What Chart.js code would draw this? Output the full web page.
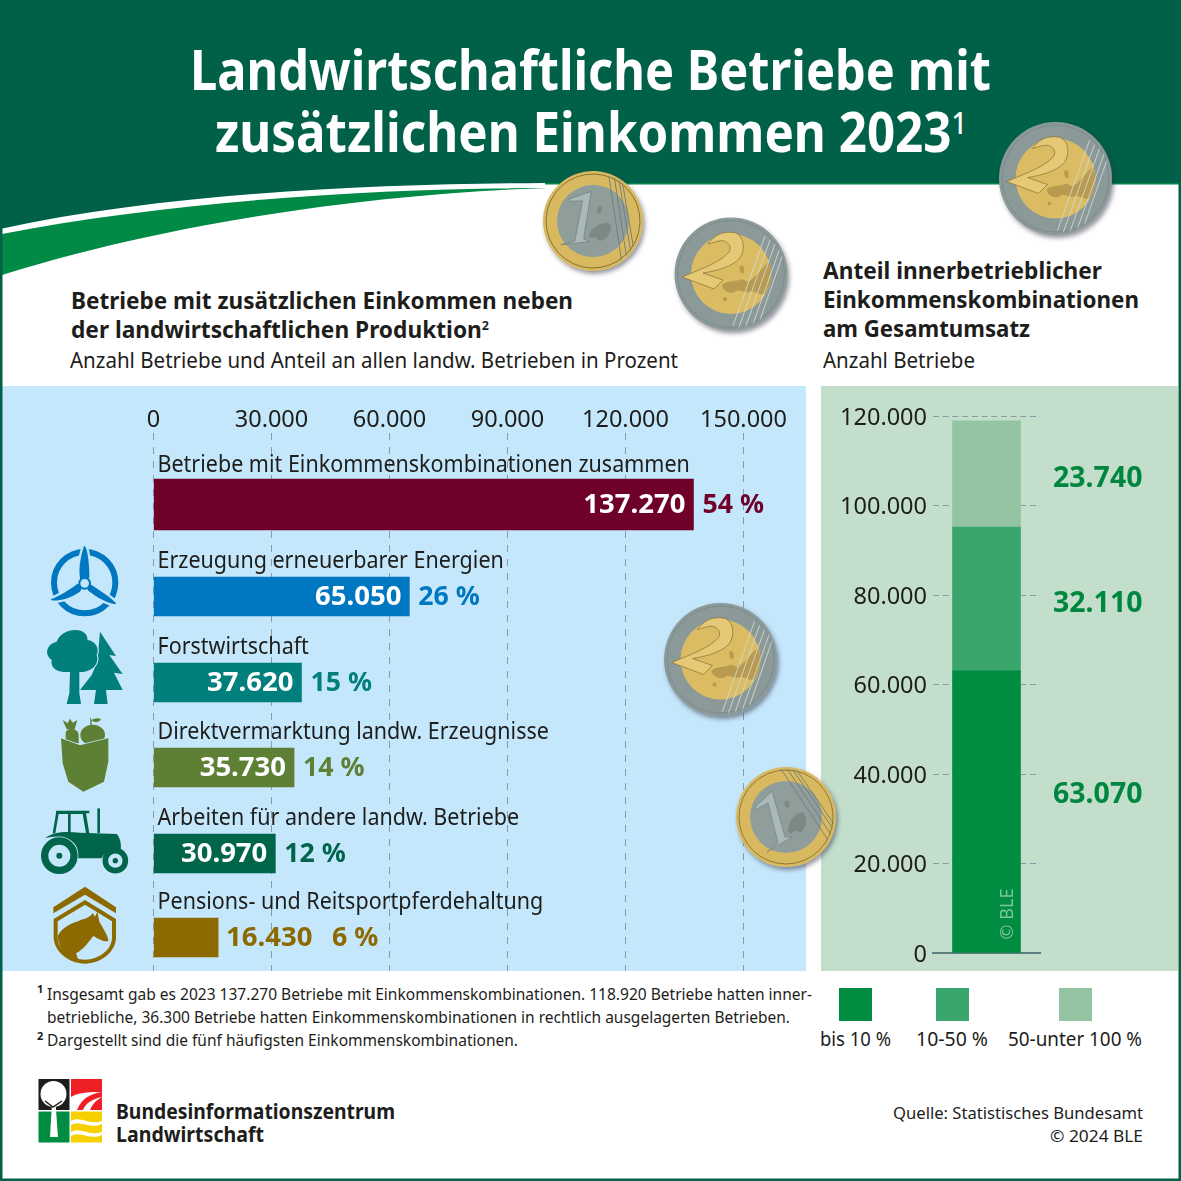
<!DOCTYPE html>
<html lang="de"><head><meta charset="utf-8">
<script src="https://cdn.jsdelivr.net/npm/chart.js@4"></script>
<style>
html,body{margin:0;padding:0;background:#fff}
#stage{position:relative;width:1181px;height:1181px;overflow:hidden;font-family:"Noto Sans",sans-serif;color:#1d1d1b}
.t{position:absolute;white-space:nowrap;line-height:1;transform-origin:0 50%}
.b{font-weight:700}
.panel{position:absolute}
canvas{display:block}
svg.ov{position:absolute;left:0;top:0;pointer-events:none}
sup{font-size:.55em;line-height:0;vertical-align:.6em}
.sw{position:absolute;width:33px;height:33px;top:988px}
</style></head><body>
<div id="stage">
<svg class="ov" width="1181" height="1181" viewBox="0 0 1181 1181" style="z-index:0">
<path d="M0,0H1181V183H545C380,184 170,192 0,229Z" fill="#006048"/>
<rect x="545" y="183" width="636" height="1.5" fill="#00874a"/>
<path d="M2,234C170,201 380,188 548,188C380,193 170,222 2,275Z" fill="#008a45"/>
</svg>
<div class="panel" style="left:2px;top:386px;width:804px;height:585px;background:#c5e7fb;z-index:1"><canvas id="left" width="804" height="585"></canvas></div>
<div class="panel" style="left:821px;top:386px;width:357px;height:585px;background:#c3dfcc;z-index:1"><canvas id="right" width="357" height="585"></canvas></div>

<div class="t b" data-w="801" style="left:190px;top:40px;font-size:56px;color:#fff;z-index:2">Landwirtschaftliche Betriebe mit</div>
<div class="t b" data-w="752" style="left:215px;top:102px;font-size:56px;color:#fff;z-index:2">zusätzlichen Einkommen 2023<sup style="font-weight:500">1</sup></div>

<div class="t b" data-w="502" style="left:71px;top:288px;font-size:24px">Betriebe mit zusätzlichen Einkommen neben</div>
<div class="t b" data-w="418" style="left:71px;top:317px;font-size:24px">der landwirtschaftlichen Produktion<sup>2</sup></div>
<div class="t" data-w="608" style="left:70px;top:348px;font-size:22px">Anzahl Betriebe und Anteil an allen landw. Betrieben in Prozent</div>
<div class="t b" data-w="279" style="left:823px;top:258px;font-size:24px">Anteil innerbetrieblicher</div>
<div class="t b" data-w="316" style="left:823px;top:287px;font-size:24px">Einkommenskombinationen</div>
<div class="t b" data-w="207" style="left:823px;top:316px;font-size:24px">am Gesamtumsatz</div>
<div class="t" data-w="152" style="left:823px;top:348px;font-size:22px">Anzahl Betriebe</div>

<div class="t b" style="left:37px;top:983px;font-size:11px">1</div>
<div class="t" data-w="765" style="left:47px;top:986px;font-size:16px">Insgesamt gab es 2023 137.270 Betriebe mit Einkommenskombinationen. 118.920 Betriebe hatten inner-</div>
<div class="t" data-w="743" style="left:47px;top:1009px;font-size:16px">betriebliche, 36.300 Betriebe hatten Einkommenskombinationen in rechtlich ausgelagerten Betrieben.</div>
<div class="t b" style="left:37px;top:1030px;font-size:11px">2</div>
<div class="t" data-w="471" style="left:47px;top:1032px;font-size:16px">Dargestellt sind die fünf häufigsten Einkommenskombinationen.</div>

<div class="sw" style="left:839px;background:#008c41"></div>
<div class="sw" style="left:936px;background:#3aa56c"></div>
<div class="sw" style="left:1059px;background:#93c5a2"></div>
<div class="t" data-w="71" style="left:820px;top:1030px;font-size:19px">bis 10 %</div>
<div class="t" data-w="72" style="left:916px;top:1030px;font-size:19px">10-50 %</div>
<div class="t" data-w="134" style="left:1008px;top:1030px;font-size:19px">50-unter 100 %</div>

<div class="t b" data-w="279" style="left:116px;top:1101px;font-size:21px">Bundesinformationszentrum</div>
<div class="t b" data-w="148" style="left:116px;top:1124px;font-size:21px">Landwirtschaft</div>
<div class="t" data-w="250" style="left:893px;top:1104px;font-size:17px">Quelle: Statistisches Bundesamt</div>
<div class="t" data-w="93" style="left:1050px;top:1127px;font-size:17px">© 2024 BLE</div>
<div class="t" style="left:1006px;top:914px;font-size:18px;color:#79c49b;transform:translate(-50%,-50%) rotate(-90deg);transform-origin:50% 50%;z-index:3">© BLE</div>

<svg class="ov" width="1181" height="1181" viewBox="0 0 1181 1181" style="z-index:4">
<defs>
<filter id="sh" x="-20%" y="-20%" width="150%" height="150%"><feDropShadow dx="2" dy="3" stdDeviation="2" flood-color="#334" flood-opacity=".5"/></filter>
<clipPath id="c2"><circle r="54"/></clipPath>
<clipPath id="c1"><circle r="48"/></clipPath>
<g id="coin2">
<circle r="56.5" fill="#8b9a98"/><circle r="53.5" fill="none" stroke="#76868a" stroke-width=".8"/>
<circle r="40" fill="#dcbc64"/>
<path d="M-9,11C-5,7 2,8 8,6C11,4 14,6 17,8C24,4 30,-6 38,-12C41,0 40,10 34,20C28,22 24,16 18,18C14,20 8,14 4,18C0,20 -8,18 -9,11ZM9,-8C12,-10 14,-6 13,-1C10,1 8,-3 9,-8ZM-7,23C-4,23 -3,26 -5,27C-8,27 -9,25 -7,23Z" fill="#b89b50"/>
<g clip-path="url(#c2)" stroke="#cfd8d4" stroke-width=".9" fill="none"><path d="M34,-38L2,52M39,-34L7,56M44,-30L12,60M49,-26L17,64M52,-20L22,66"/></g>
<path d="M-23,-30C-15,-42 -3,-43 5,-41C14,-36 14,-24 9,-16C1,-7 -15,-3 -28,-1L-8,6L-17,15L-49,3C-30,-5 -10,-12 -2,-22C2,-28 -5,-35 -12,-33C-16,-32 -20,-31 -23,-30Z" fill="#e6c976" stroke="#8a6d30" stroke-width=".7"/>
</g>
<g id="coin1">
<circle r="50" fill="#d9b95f"/><circle r="47" fill="none" stroke="#7b6a35" stroke-width=".8"/>
<circle r="36" fill="#8f9d9b"/>
<path d="M-1,-16C2,-18 5,-14 3,-10C0,-8 -3,-12 -1,-16ZM3,8C6,0 12,-6 18,-4C22,4 20,10 16,14C12,18 10,10 6,16C2,18 1,12 3,8Z" fill="#7a8886"/>
<g clip-path="url(#c1)" stroke="#6f7e7c" stroke-width=".9" fill="none"><path d="M-5,-48L44,26M0,-50L48,22M5,-50L50,16M10,-48L50,10"/></g>
<path d="M-14,-26L-31,-10L-29,-8L-18,-14L-8,26L-19,35L6,20L-1,20L-14,-26Z" fill="#a9b9b7" stroke="#6c7a78" stroke-width=".6"/>
</g>
</defs>
<g filter="url(#sh)">
<use href="#coin1" transform="translate(593,221) rotate(25)"/>
<use href="#coin2" transform="translate(731,274)"/>
<use href="#coin2" transform="translate(1055.5,178.5)"/>
<use href="#coin2" transform="translate(720.5,659.5)"/>
<use href="#coin1" transform="translate(786,817)"/>
</g>
<g transform="translate(0,520) scale(.33333)">
<g>
<circle cx="254" cy="188" r="92" fill="none" stroke="#0078c1" stroke-width="18"/>
<path d="M254,190L240,175C234,140 245,100 252,78C262,78 268,130 268,172Z" fill="#0078c1" stroke="#c5e7fb" stroke-width="14" paint-order="stroke"/>
<path d="M254,190L232,192C205,212 175,230 152,238C156,247 205,240 240,215Z" fill="#0078c1" stroke="#c5e7fb" stroke-width="14" paint-order="stroke"/>
<path d="M254,190L275,195C305,215 335,235 349,250C345,258 300,240 265,212Z" fill="#0078c1" stroke="#c5e7fb" stroke-width="14" paint-order="stroke"/>
<circle cx="254" cy="190" r="16" fill="#c5e7fb" stroke="#0078c1" stroke-width="6"/>
</g>
<g fill="#007f7c">
<path d="M300,335L348,408L328,405L368,462L342,458L368,510L318,510L323,552L282,552L288,510L240,510L275,465L292,425Z"/>
<g stroke="#c5e7fb" stroke-width="6" paint-order="stroke">
<path d="M225,330C255,330 265,350 262,360C285,362 300,385 290,405C298,425 285,450 250,456L238,456L238,520L243,552L200,552L208,520L210,456C180,458 150,450 155,420C135,405 135,375 170,365C180,340 205,330 225,330Z"/>
</g>
</g>
<g fill="#5d8035">
<path d="M197,640C197,622 235,622 236,645L236,670L197,665Z"/>
<path d="M188,600L203,610L210,596L218,608L232,600L224,628L200,628Z"/>
<ellipse cx="278" cy="645" rx="37" ry="31"/>
<path d="M270,590L272,622L276,622L275,600C285,612 300,605 303,598C295,592 282,595 275,600Z"/>
<path d="M183,655L240,676L325,655L325,725L312,785L250,815L205,785L188,730Z" stroke="#c5e7fb" stroke-width="5" paint-order="stroke"/>
</g>
<g>
<path d="M168,872H268V880H258L268,940H258L248,882H212V940H204V882H176L166,940H158L168,880Z" fill="#00654a"/>
<rect x="292" y="865" width="8" height="75" rx="3" fill="#00654a"/>
<path d="M135,955C165,932 200,935 240,938L350,942C360,950 365,975 362,990C335,985 315,995 305,1015H235C238,985 225,960 190,950C165,948 150,950 135,955Z" fill="#00654a"/>
<circle cx="178" cy="1007" r="44" fill="#c5e7fb" stroke="#00654a" stroke-width="22"/>
<circle cx="178" cy="1007" r="9" fill="#00654a"/>
<circle cx="346" cy="1022" r="30" fill="#c5e7fb" stroke="#00654a" stroke-width="17"/>
<circle cx="346" cy="1022" r="8" fill="#00654a"/>
</g>
<g fill="#8c6a00">
<path d="M160,1162L255,1100L348,1162V1180L255,1124L160,1180Z"/>
<path d="M161,1197L255,1140L348,1197V1255C345,1300 300,1331 255,1331C210,1331 165,1300 161,1255ZM173,1204V1255C176,1292 215,1319 255,1319C295,1319 334,1292 336,1255V1204L255,1154Z" fill-rule="evenodd"/>
<path d="M173,1250C180,1230 200,1215 230,1205C250,1195 270,1195 278,1178L285,1190L292,1175L298,1205C310,1225 325,1250 325,1262C318,1268 300,1260 280,1248C265,1265 255,1285 228,1300L235,1319C200,1312 178,1290 173,1250Z"/>
</g>
</g>
<g>
<rect x="38.5" y="1079" width="31" height="31" fill="#1d1d1b"/>
<rect x="71" y="1079" width="31" height="31" fill="#ee2026"/>
<rect x="38.5" y="1111.5" width="31" height="31" fill="#008c41"/>
<rect x="71" y="1111.5" width="31" height="31" fill="#f7d000"/>
<circle cx="53.5" cy="1094" r="13" fill="#fff"/>
<path d="M52,1103H55.5L58,1137H50Z" fill="#fff"/>
<path d="M45,1101L53,1107L62,1101" fill="none" stroke="#1d1d1b" stroke-width="1.5"/>
<path d="M71,1097C80,1092 90,1092 102,1092C90,1094 82,1098 77,1110H71ZM83,1110C86,1103 92,1099 102,1097C95,1101 92,1105 90,1110Z" fill="#fff"/>
<path d="M71,1121C80,1115 90,1126 102,1121V1124C90,1130 80,1119 71,1125ZM71,1132C80,1126 90,1137 102,1132V1135C90,1141 80,1130 71,1136Z" fill="#fff"/>
</g>
<rect x="1.25" y="-3" width="1178.5" height="1182.75" fill="none" stroke="#006048" stroke-width="2.5"/>
</svg>
</div>
<script>
const categories = ["Betriebe mit Einkommenskombinationen zusammen","Erzeugung erneuerbarer Energien","Forstwirtschaft","Direktvermarktung landw. Erzeugnisse","Arbeiten für andere landw. Betriebe","Pensions- und Reitsportpferdehaltung"];
const betriebe = [137270,65050,37620,35730,30970,16430];
const anteile = [54,26,15,14,12,6];
const xTicks = [0,30000,60000,90000,120000,150000];
const rowSlots = [0,1.076,2.082,3.076,4.082,5.064];
const barColors = ["#6e002a","#0078c1","#007f7c","#5d8035","#00654a","#8c6a00"];

const stackLabels = ["bis 10 %","10-50 %","50-unter 100 %"];
const stackValues = [63070,32110,23740];
const stackColors = ["#008c41","#3aa56c","#93c5a2"];
const stackLabelShift = [-17,4.5,5];

const fmt = v => v.toLocaleString("de-DE");
const INK = "#1d1d1b", GRID = "#8c9aa6", FF = '"Noto Sans", sans-serif';

function scaledText(ctx, s, x, y, sx){ ctx.save(); ctx.translate(x,y); ctx.scale(sx,1); ctx.fillText(s,0,0); ctx.restore(); }

const barLabels = { id:"barLabels", afterDatasetsDraw(c){
  const ctx=c.ctx, X=c.scales.x, Y=c.scales.y;
  betriebe.forEach((v,i)=>{
    const cy=Y.getPixelForValue(rowSlots[i]), end=X.getPixelForValue(v), h=i===0?51:39, gap=i===0?13.5:16;
    ctx.textBaseline="middle"; ctx.textAlign="left";
    ctx.fillStyle=INK; ctx.font='400 23px '+FF;
    scaledText(ctx,categories[i],X.getPixelForValue(0)+4,cy-h/2-gap,.935);
    ctx.font='700 27.5px '+FF;
    const val=fmt(v), pct=anteile[i]+" %";
    if(i<5){
      ctx.textAlign="right"; ctx.fillStyle="#fff"; ctx.fillText(val,end-8,cy+1);
      ctx.textAlign="left"; ctx.fillStyle=barColors[i]; scaledText(ctx,pct,end+9,cy+1,.97);
    } else {
      ctx.textAlign="left"; ctx.fillStyle=barColors[i]; ctx.fillText(val,end+8,cy+1);
      scaledText(ctx,pct,end+8+106,cy+1,.97);
    }
  });
}};
new Chart(document.getElementById("left"),{
  type:"bar",
  data:{labels:categories,datasets:[
    {data:[{x:betriebe[0],y:rowSlots[0]}],backgroundColor:barColors[0],barThickness:51,grouped:false},
    {data:betriebe.slice(1).map((v,i)=>({x:v,y:rowSlots[i+1]})),backgroundColor:barColors.slice(1),barThickness:39,grouped:false}
  ]},
  plugins:[barLabels],
  options:{indexAxis:"y",responsive:false,animation:false,devicePixelRatio:1,
    layout:{padding:{left:151.5,right:62.5,top:0,bottom:0}},
    plugins:{legend:{display:false},tooltip:{enabled:false}},
    scales:{
      x:{type:"linear",position:"top",min:0,max:150000,
        afterBuildTicks(s){s.ticks=xTicks.map(v=>({value:v}));},
        afterFit(s){s.height=47;},
        ticks:{callback:fmt,font:{family:FF,size:23.5},color:INK,padding:-1,maxRotation:0,autoSkip:false},
        grid:{color:GRID,drawTicks:false,lineWidth:1},
        border:{display:false,dash:[7,7]}},
      y:{type:"linear",reverse:true,offset:false,min:-0.836,max:5.456,display:false}
    }}
});

const stackValueLabels = { id:"stackValueLabels",
  beforeDraw(c){
    if(c.$nudged) return; c.$nudged=true;
    c.scales.y.getLabelItems().forEach(it=>{ it.options.translation[1]+=2; });
  },
  afterDatasetsDraw(c){
    const ctx=c.ctx, Y=c.scales.y; let base=0;
    ctx.font='700 28.5px '+FF; ctx.fillStyle="#00873f"; ctx.textAlign="left"; ctx.textBaseline="middle";
    stackValues.forEach((v,i)=>{
      const cy=Y.getPixelForValue(base+v/2); base+=v;
      ctx.fillText(fmt(v),c.chartArea.right+13,cy+stackLabelShift[i]);
    });
  }};
new Chart(document.getElementById("right"),{
  type:"bar",
  data:{labels:["Betriebe"],datasets:stackValues.map((v,i)=>({label:stackLabels[i],data:[v],backgroundColor:stackColors[i],barThickness:68,stack:"a"}))},
  plugins:[stackValueLabels],
  options:{responsive:false,animation:false,devicePixelRatio:1,
    layout:{padding:{left:0,right:138,top:30,bottom:10}},
    plugins:{legend:{display:false},tooltip:{enabled:false}},
    scales:{
      x:{stacked:true,ticks:{display:false},grid:{display:false},border:{display:true,color:"#5c7f80",width:2}},
      y:{stacked:true,min:0,max:120000,afterFit(s){s.width=112;s.paddingTop=0;s.paddingBottom=0;},
        ticks:{stepSize:20000,callback:fmt,font:{family:FF,size:23.5},color:INK,padding:6},
        grid:{color:GRID,drawTicks:false,lineWidth:1},
        border:{display:false,dash:[6,3.7]}}
    }}
});

document.querySelectorAll("[data-w]").forEach(el=>{
  const w=el.getBoundingClientRect().width, k=+el.dataset.w/w;
  el.style.transform="scaleX("+k+")";
});
</script>
</body></html>
